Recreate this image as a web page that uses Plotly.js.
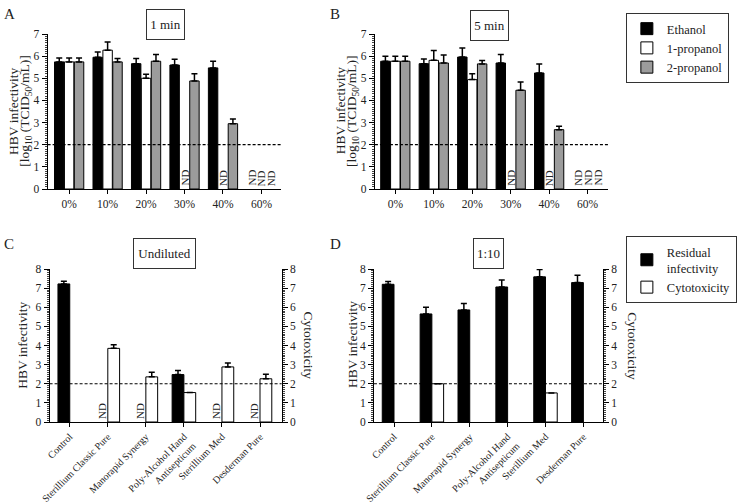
<!DOCTYPE html>
<html>
<head>
<meta charset="utf-8">
<script src="https://cdn.plot.ly/plotly-3.0.1.min.js"></script>
<style>html,body{margin:0;padding:0;background:#fff}#chart{width:737px;height:504px}</style>
</head>
<body>
<div id="chart"></div>
<script>
// ---------- data ----------
const concentrations = ['0%', '10%', '20%', '30%', '40%', '60%'];
const seriesNames = ['Ethanol', '1-propanol', '2-propanol'];
// Panel A: 1 min (null = ND)
const ethanol1min = [5.74, 5.95, 5.66, 5.60, 5.47, null];
const ethanol1minErr = [0.18, 0.24, 0.23, 0.26, 0.30, null];
const propanol1_1min = [5.74, 6.27, 5.00, null, null, null];
const propanol1_1minErr = [0.18, 0.37, 0.18, null, null, null];
const propanol2_1min = [5.74, 5.74, 5.77, 4.88, 2.95, null];
const propanol2_1minErr = [0.18, 0.15, 0.30, 0.33, 0.21, null];
// Panel B: 5 min
const ethanol5min = [5.77, 5.66, 5.96, 5.69, 5.24, null];
const ethanol5minErr = [0.23, 0.21, 0.41, 0.38, 0.41, null];
const propanol1_5min = [5.77, 5.81, 4.94, null, null, null];
const propanol1_5minErr = [0.23, 0.44, 0.27, null, null, null];
const propanol2_5min = [5.77, 5.69, 5.65, 4.46, 2.68, null];
const propanol2_5minErr = [0.23, 0.36, 0.15, 0.37, 0.15, null];

const products = ['Control', 'Sterillium Classic Pure', 'Manorapid Synergy',
  'Poly-Alcohol Hand<br>Antisepticum', 'Sterillium Med', 'Desderman Pure'];
const productNames = ['Residual<br>infectivity', 'Cytotoxicity'];
// Panel C: undiluted (residual null = ND; cytotoxicity null = none)
const residualUndiluted = [7.22, null, null, 2.48, null, null];
const residualUndilutedErr = [0.14, null, null, 0.21, null, null];
const cytoUndiluted = [null, 3.85, 2.36, 1.54, 2.88, 2.26];
const cytoUndilutedErr = [null, 0.19, 0.24, null, 0.20, 0.24];
// Panel D: 1:10
const residualDiluted = [7.20, 5.65, 5.86, 7.06, 7.59, 7.29];
const residualDilutedErr = [0.14, 0.35, 0.33, 0.37, 0.38, 0.38];
const cytoDiluted = [null, 2.00, null, null, 1.52, null];
const cytoDilutedErr = [null, null, null, null, null, null];

const detectionLimit = 2;

// ---------- styling ----------
const FONT = 'Liberation Serif, Times New Roman, serif';
const INK = '#222222';
const W = 737, H = 504;
const px = v => v / W;
const py = v => 1 - v / H;
const fillColors = ['#000000', '#ffffff', '#9c9c9c'];

const traces = [];
const annotations = [];
const shapes = [];

function addBar(x, y, err, name, color, xa, ya, legend, showlegend, width, offset) {
  traces.push({
    type: 'bar', x: x, y: y, name: name, xaxis: xa, yaxis: ya,
    legend: legend, showlegend: showlegend,
    width: width, offset: offset,
    marker: {color: color, line: {color: '#000', width: 1}},
    error_y: {type: 'data', symmetric: false, array: err,
      arrayminus: err.map(e => (e == null ? null : 0)),
      color: '#000', thickness: 1.5, width: 3, visible: true},
    hoverinfo: 'skip'
  });
}

function addND(vals, xref, yref, offsetCenter) {
  vals.forEach((v, i) => {
    if (v == null) {
      annotations.push({xref: xref, yref: yref, x: i + offsetCenter, y: 0,
        text: 'ND', textangle: -90, showarrow: false,
        xanchor: 'center', yanchor: 'bottom', yshift: 1,
        font: {family: FONT, size: 11, color: INK}});
    }
  });
}

// Panels A and B
const abWidth = 0.245;
const abOffsets = [-0.38, -0.1225, 0.135];
const panelAB = [
  {xa: 'x', ya: 'y', vals: [ethanol1min, propanol1_1min, propanol2_1min],
   errs: [ethanol1minErr, propanol1_1minErr, propanol2_1minErr], show: false},
  {xa: 'x2', ya: 'y2', vals: [ethanol5min, propanol1_5min, propanol2_5min],
   errs: [ethanol5minErr, propanol1_5minErr, propanol2_5minErr], show: true}
];
panelAB.forEach(p => {
  p.vals.forEach((v, k) => {
    addBar(concentrations, v, p.errs[k], seriesNames[k], fillColors[k], p.xa, p.ya,
      'legend', p.show, abWidth, abOffsets[k]);
    addND(v, p.xa, p.ya, abOffsets[k] + abWidth / 2);
  });
  shapes.push({type: 'line', xref: p.xa + ' domain', yref: p.ya, x0: 0, x1: 1,
    y0: detectionLimit, y1: detectionLimit, line: {color: '#000', width: 1.2, dash: '3px,2px'}});
});

// Panels C and D
const cdWidth = 0.31;
const panelCD = [
  {xa: 'x3', ya: 'y3', ya2: 'y4', res: residualUndiluted, resErr: residualUndilutedErr,
   cyto: cytoUndiluted, cytoErr: cytoUndilutedErr, show: false},
  {xa: 'x4', ya: 'y5', ya2: 'y6', res: residualDiluted, resErr: residualDilutedErr,
   cyto: cytoDiluted, cytoErr: cytoDilutedErr, show: true}
];
panelCD.forEach(p => {
  addBar(products, p.res, p.resErr, productNames[0], '#000', p.xa, p.ya, 'legend2', p.show, cdWidth, -cdWidth);
  addBar(products, p.cyto, p.cytoErr, productNames[1], '#fff', p.xa, p.ya2, 'legend2', p.show, cdWidth, 0);
  addND(p.res, p.xa, p.ya, -cdWidth / 2);
  shapes.push({type: 'line', xref: p.xa + ' domain', yref: p.ya, x0: 0, x1: 1,
    y0: detectionLimit, y1: detectionLimit, line: {color: '#000', width: 1.2, dash: '3px,2px'}});
});

// ---------- axes ----------
function yAxis(domain, range, extra) {
  return Object.assign({
    domain: domain, range: range, showgrid: false, zeroline: false,
    showline: true, linecolor: '#000', linewidth: 1,
    ticks: 'outside', ticklen: 5, tickwidth: 1, tickcolor: '#000', dtick: 1, tick0: 0,
    minor: {dtick: 0.1, ticklen: 2, tickwidth: 1, tickcolor: '#444', ticks: 'outside'},
    tickfont: {family: FONT, size: 11.5, color: INK}, automargin: false, fixedrange: true
  }, extra || {});
}
function xAxis(domain, range, extra) {
  return Object.assign({
    domain: domain, range: range, type: 'category', showgrid: false, zeroline: false,
    showline: true, linecolor: '#000', linewidth: 1,
    ticks: 'outside', ticklen: 4, tickwidth: 1, tickcolor: '#000',
    tickfont: {family: FONT, size: 11.5, color: INK}, automargin: false, fixedrange: true
  }, extra || {});
}

const yTopDom = [py(189), py(34)];
const yBotDom = [py(422), py(269)];

// ---------- text annotations ----------
function label(text, x, y, opts) {
  annotations.push(Object.assign({xref: 'paper', yref: 'paper', x: px(x), y: py(y),
    text: text, showarrow: false, xanchor: 'center', yanchor: 'middle',
    font: {family: FONT, size: 13, color: INK}}, opts || {}));
}
const letterFont = () => ({family: FONT, size: 15, color: INK});
// panel letters
label('A', 2, 4, {xanchor: 'left', yanchor: 'top', font: letterFont()});
label('B', 331, 4, {xanchor: 'left', yanchor: 'top', font: letterFont()});
label('C', 2, 234, {xanchor: 'left', yanchor: 'top', font: letterFont()});
label('D', 331, 234, {xanchor: 'left', yanchor: 'top', font: letterFont()});
// boxed titles
const boxed = {bordercolor: '#333', borderwidth: 1, bgcolor: '#fff', height: 27};
label('1 min', 167, 24, Object.assign({width: 35}, boxed));
label('5 min', 494, 25, Object.assign({width: 35}, boxed));
label('Undiluted', 165.5, 253, Object.assign({width: 59}, boxed));
label('1:10', 492.5, 253, Object.assign({width: 27}, boxed));
// axis titles
const titleFont = () => ({family: FONT, size: 13.5, color: INK});
label('HBV infectivity', 13, 111, {textangle: -90, font: titleFont()});
label('[log<sub>10</sub> (TCID<sub>50</sub>/mL)]', 25, 111, {textangle: -90, font: titleFont()});
label('HBV infectivity', 343, 111, {textangle: -90, font: titleFont()});
label('[log<sub>10</sub> (TCID<sub>50</sub>/mL)]', 355, 111, {textangle: -90, font: titleFont()});
label('HBV infectivity', 22, 345, {textangle: -90, font: titleFont()});
label('Cytotoxicity', 312, 346, {textangle: 90, font: titleFont()});
label('HBV infectivity', 355, 345, {textangle: -90, font: titleFont()});
label('Cytotoxicity', 638, 346, {textangle: 90, font: titleFont()});

function legendStyle(x, y) {
  return {
    x: px(x), y: py(y), xanchor: 'left', yanchor: 'top', bgcolor: '#fff',
    bordercolor: '#333', borderwidth: 1,
    font: {family: FONT, size: 12.5, color: INK}, itemwidth: 30, tracegroupgap: 0,
    itemclick: false, itemdoubleclick: false
  };
}

const rotFont = () => ({family: FONT, size: 10, color: INK});
// right axes: labels at integer values 1..8 plus the shared bottom value
const rightTicks = [0, 1, 2, 3, 4, 5, 6, 7, 8];
const rightAxisExtra = (anchor, over) => ({anchor: anchor, overlaying: over, side: 'right',
  tickmode: 'array', tickvals: rightTicks, ticktext: rightTicks.map(String),
  tickfont: {family: FONT, size: 11.5, color: INK}});
const layout = {
  width: W, height: H, margin: {l: 0, r: 0, t: 0, b: 0},
  paper_bgcolor: '#fff', plot_bgcolor: 'rgba(0,0,0,0)',
  font: {family: FONT, color: INK},
  barmode: 'group',
  xaxis: xAxis([px(48), px(283)], [-0.56, 5.5], {anchor: 'y'}),
  yaxis: yAxis(yTopDom, [0, 7], {anchor: 'x'}),
  xaxis2: xAxis([px(378), px(613)], [-0.53, 5.53], {anchor: 'y2'}),
  yaxis2: yAxis(yTopDom, [0, 7], {anchor: 'x2'}),
  xaxis3: xAxis([px(50), px(284)], [-0.53, 5.57], {anchor: 'y3', tickangle: -45, tickfont: rotFont()}),
  yaxis3: yAxis(yBotDom, [0, 8], {anchor: 'x3'}),
  yaxis4: yAxis(yBotDom, [0, 8], rightAxisExtra('x3', 'y3')),
  xaxis4: xAxis([px(377), px(608)], [-0.53, 5.52], {anchor: 'y5', tickangle: -45, tickfont: rotFont()}),
  yaxis5: yAxis(yBotDom, [0, 8], {anchor: 'x4'}),
  yaxis6: yAxis(yBotDom, [0, 8], rightAxisExtra('x4', 'y5')),
  legend: legendStyle(631, 13),
  legend2: legendStyle(631, 236),
  annotations: annotations,
  shapes: shapes
};

Plotly.newPlot('chart', traces, layout, {staticPlot: true, displayModeBar: false});
</script>
</body>
</html>
